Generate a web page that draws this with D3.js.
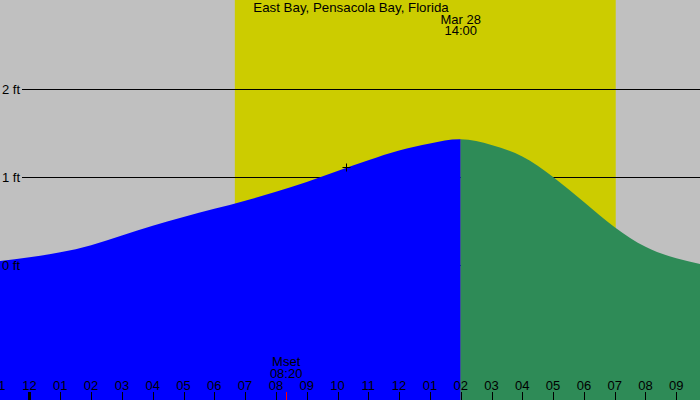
<!DOCTYPE html>
<html>
<head>
<meta charset="utf-8">
<script src="https://cdn.jsdelivr.net/npm/d3@7"></script>
<style>
html,body{margin:0;padding:0;background:#c0c0c0;}
svg{display:block;}
text{font-family:"Liberation Sans",Arial,sans-serif;font-size:13px;fill:#000;}
</style>
</head>
<body>
<svg id="chart" width="700" height="400"></svg>
<script>
// ---- data (hours relative to Mar 28 00:00) ----
const title = "East Bay, Pensacola Bay, Florida";
const tideHours   = [-1, 0, 1, 2, 3, 4, 5, 6, 7, 8, 9, 10, 11, 12, 13, 14, 15, 16, 17, 18, 19, 20, 21, 22];
const tideHeights = [0.045, 0.088, 0.144, 0.225, 0.335, 0.445, 0.545, 0.638, 0.731, 0.831, 0.943, 1.068,
                     1.191, 1.302, 1.380, 1.428, 1.363, 1.232, 1.000, 0.716, 0.430, 0.208, 0.076, -0.005];
const highTide = {hour: 14, date: "Mar 28", time: "14:00"};
const sunriseHour = 6 + 40/60;
const sunsetHour  = 19 + 2/60;
const moonset = {hour: 8 + 20/60, label: "Mset", time: "08:20"};
const markerPoint = {hour: 10 + 17/60, height: 1.11};
const levelValues = [0, 1, 2];
const levelLabels = ["0 ft", "1 ft", "2 ft"];
const tickHours  = [-1, 0, 1, 2, 3, 4, 5, 6, 7, 8, 9, 10, 11, 12, 13, 14, 15, 16, 17, 18, 19, 20, 21];
const tickLabels = ["11","12","01","02","03","04","05","06","07","08","09","10",
                    "11","12","01","02","03","04","05","06","07","08","09"];

// ---- layout ----
const W = 700, H = 400;
const svg = d3.select("#chart");
const x = d3.scaleLinear().domain([-29.5/30.8, (W - 29.5)/30.8]).range([0, W]);
const y = d3.scaleLinear().domain([0, 2]).range([265, 89]);

svg.append("rect").attr("width", W).attr("height", H).attr("fill", "#c0c0c0");
svg.append("rect")
  .attr("x", x(sunriseHour)).attr("y", 0)
  .attr("width", x(sunsetHour) - x(sunriseHour)).attr("height", H)
  .attr("fill", "#cccc00");

// level lines
svg.selectAll("line.level").data(levelValues).enter().append("line")
  .attr("class", "level")
  .attr("x1", 22).attr("x2", W)
  .attr("y1", d => Math.round(y(d)) + 0.5).attr("y2", d => Math.round(y(d)) + 0.5)
  .attr("stroke", "#000").attr("stroke-width", 1);

// tide area
const pts = tideHours.map((h, i) => [h, tideHeights[i]]);
const area = d3.area().x(d => x(d[0])).y0(H).y1(d => y(d[1])).curve(d3.curveNatural);
const defs = svg.append("defs");
defs.append("clipPath").attr("id", "rise").append("rect")
  .attr("x", 0).attr("y", 0).attr("width", x(highTide.hour)).attr("height", H);
defs.append("clipPath").attr("id", "fall").append("rect")
  .attr("x", x(highTide.hour)).attr("y", 0).attr("width", W - x(highTide.hour)).attr("height", H);
svg.append("path").datum(pts).attr("d", area).attr("fill", "#0000ff").attr("clip-path", "url(#rise)");
svg.append("path").datum(pts).attr("d", area).attr("fill", "#2e8b57").attr("clip-path", "url(#fall)");

// level labels
svg.selectAll("text.lvl").data(levelValues).enter().append("text")
  .attr("class", "lvl")
  .attr("x", 2).attr("y", d => Math.round(y(d)) + 5)
  .text((d, i) => levelLabels[i]);

// title
svg.append("text").attr("x", 351).attr("y", 12).attr("text-anchor", "middle")
  .style("font-size", "13.3px").text(title);
svg.append("text").attr("x", x(highTide.hour)).attr("y", 24).attr("text-anchor", "middle").text(highTide.date);
svg.append("text").attr("x", x(highTide.hour)).attr("y", 35).attr("text-anchor", "middle").text(highTide.time);

// hour ticks and labels
svg.selectAll("text.hr").data(tickHours).enter().append("text")
  .attr("class", "hr")
  .attr("x", d => x(d)).attr("y", 390).attr("text-anchor", "middle")
  .text((d, i) => tickLabels[i]);
svg.selectAll("line.tk").data(tickHours).enter().append("line")
  .attr("class", "tk")
  .attr("x1", d => d === 0 ? x(d) : Math.round(x(d)) + 0.5)
  .attr("x2", d => d === 0 ? x(d) : Math.round(x(d)) + 0.5)
  .attr("y1", 392).attr("y2", H)
  .attr("stroke", "#000").attr("stroke-width", d => d === 0 ? 3 : 1);

// moonset
svg.append("text").attr("x", x(moonset.hour)).attr("y", 366).attr("text-anchor", "middle").text(moonset.label);
svg.append("text").attr("x", x(moonset.hour)).attr("y", 378).attr("text-anchor", "middle").text(moonset.time);
svg.append("line")
  .attr("x1", Math.round(x(moonset.hour)) + 0.5).attr("x2", Math.round(x(moonset.hour)) + 0.5)
  .attr("y1", 392).attr("y2", H).attr("stroke", "#ff0000").attr("stroke-width", 1);

// marker cross
const mx = Math.round(x(markerPoint.hour)) + 0.5, my = Math.round(y(markerPoint.height)) + 0.5;
svg.append("path")
  .attr("d", `M${mx - 4},${my}H${mx + 4}M${mx},${my - 4}V${my + 4}`)
  .attr("stroke", "#000").attr("stroke-width", 1).attr("fill", "none");
</script>
</body>
</html>
